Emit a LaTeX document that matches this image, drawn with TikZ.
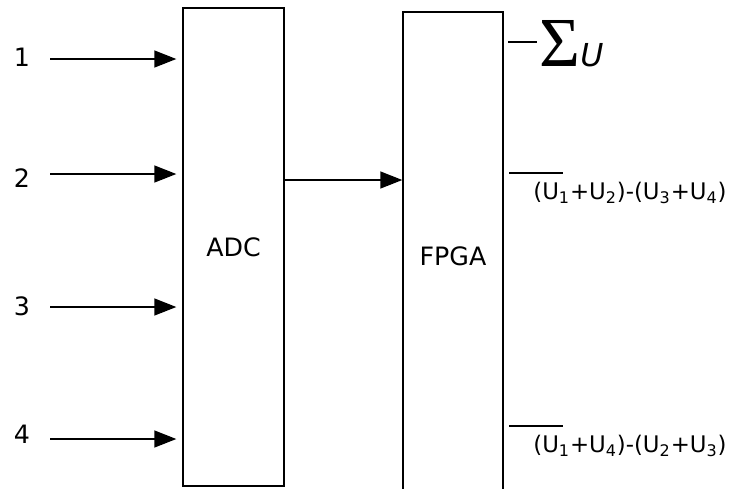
\documentclass[tikz,border=0pt]{standalone}
\usepackage{fontspec}
\setmainfont{DejaVu Sans}
\newfontfamily\sigmafont{Liberation Serif}
\usetikzlibrary{arrows.meta,positioning,calc}
\tikzset{block/.style={draw, line width=0.8pt, inner sep=0pt, font=\Large}}
\tikzset{arr/.style={draw, line width=0.8pt, -{Triangle[length=0.44cm, width=0.34cm]}}}
\tikzset{outlbl/.style={anchor=west, inner sep=0pt, font=\fontsize{13}{13}\selectfont}}

\begin{document}
\begin{tikzpicture}[x=0.02cm, y=-0.02cm]
	\useasboundingbox (0,0) rectangle (731,488);
	\clip (0,0) rectangle (731,488);
	\node[block, minimum width=2.02cm, minimum height=9.56cm] (adc) at (233.5,247) {ADC};
	\node[block, minimum width=2cm, minimum height=9.76cm] (fpga) at (453,256) {FPGA};
	
	% inputs
	\foreach \i/\y/\ly in {1/59/57, 2/174/178, 3/307/306, 4/439/434}{
		\node[font=\Large] (lbl\i) at (22,\ly) {\i};
		\coordinate (in\i) at (50,\y);
		\draw[arr, shorten >=0.12cm] (in\i) -- (in\i -| adc.west);
	}
	
	\draw[arr] (adc.east |- 0,180) -- (fpga.west |- 0,180);
	
	% outputs
	\coordinate (o1) at (508,42);
	\coordinate (o2) at (509,173);
	\coordinate (o3) at (509,426);
	\draw[line width=0.8pt] (o1) -- ++(29,0) coordinate (o1e);
	\draw[line width=0.8pt] (o2) -- ++(54,0);
	\draw[line width=0.8pt] (o3) -- ++(54,0);
	\node[outlbl] (sum) at ($(o1e)+(2,2)$) {\fontsize{40}{40}\sigmafont\selectfont Σ\fontsize{18}{18}\normalfont\itshape U};
	\node[outlbl] (diff1) at (533,193) {(U\textsubscript{1}+U\textsubscript{2})-(U\textsubscript{3}+U\textsubscript{4})};
	\node[outlbl] (diff2) at (533,446) {(U\textsubscript{1}+U\textsubscript{4})-(U\textsubscript{2}+U\textsubscript{3})};
\end{tikzpicture}
\end{document}
